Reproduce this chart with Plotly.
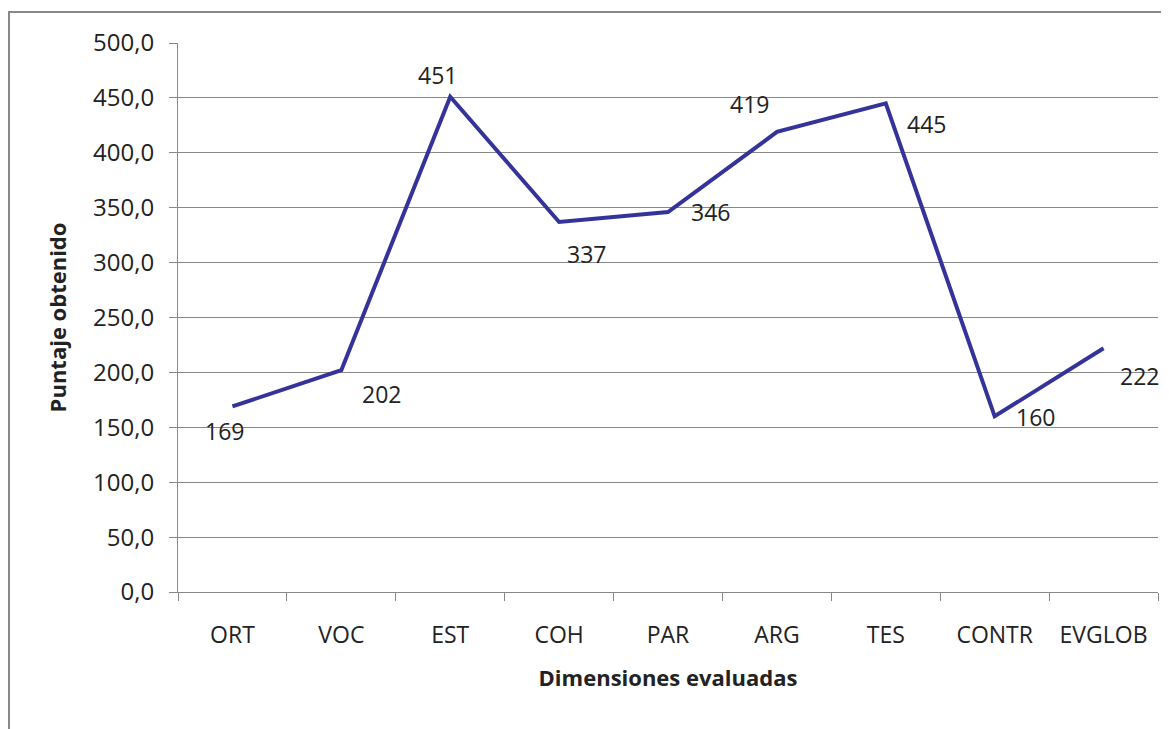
import plotly.graph_objects as go

categories = ["ORT", "VOC", "EST", "COH", "PAR", "ARG", "TES", "CONTR", "EVGLOB"]
puntaje = [169, 202, 451, 337, 346, 419, 445, 160, 222]
y_ticks = [0, 50, 100, 150, 200, 250, 300, 350, 400, 450, 500]

# label offsets (px) mimicking Excel's placement
label_shift = [(-8, -25), (40, -24), (-13, 22), (27, -32), (42, 0), (-27, 28), (41, -21), (41, -1), (36, -28)]

font = "Open Sans, Noto Sans, sans-serif"

fig = go.Figure()
fig.add_trace(go.Scatter(
    x=categories, y=puntaje, mode="lines",
    line=dict(color="#333399", width=4),
    showlegend=False, hoverinfo="x+y",
))

for cat, val, (dx, dy) in zip(categories, puntaje, label_shift):
    fig.add_annotation(
        x=cat, y=val, text=str(val), showarrow=False,
        xshift=dx, yshift=dy, font=dict(family=font, size=23, color="#222"),
    )

# page body has an 8px margin, so the figure is 8px smaller than the window
fig.update_layout(
    width=1161, height=721,
    margin=dict(l=170, r=11, t=35, b=137),
    paper_bgcolor="white", plot_bgcolor="white",
    separators=",.",
    font=dict(family=font, size=23, color="#222"),
    xaxis=dict(
        type="category", tickson="boundaries",
        range=[-0.5, len(categories) - 0.5],
        ticks="outside", ticklen=8, tickcolor="#888",
        showline=True, linecolor="#888", linewidth=1,
        showgrid=False, ticklabelstandoff=22,
        title=dict(text="<b>Dimensiones evaluadas</b>", standoff=22,
                   font=dict(size=22)),
    ),
    yaxis=dict(
        range=[0, 500], tickvals=y_ticks, tickformat=".1f",
        ticks="outside", ticklen=8, tickcolor="#888",
        tickfont=dict(size=24),
        showline=True, linecolor="#888", linewidth=1,
        showgrid=True, gridcolor="#888", gridwidth=1,
        zeroline=False, ticklabelstandoff=10,
        title=dict(text="<b>Puntaje obtenido</b>", standoff=20,
                   font=dict(size=22)),
    ),
)

# outer chart border (figure starts at x=8 on the page)
fig.add_shape(type="rect", xref="paper", yref="paper",
              x0=(9 - 178) / 980, x1=1.5, y0=-1, y1=(592 - 12) / 549,
              line=dict(color="#888", width=2), layer="below")

fig.write_html("out.html")
